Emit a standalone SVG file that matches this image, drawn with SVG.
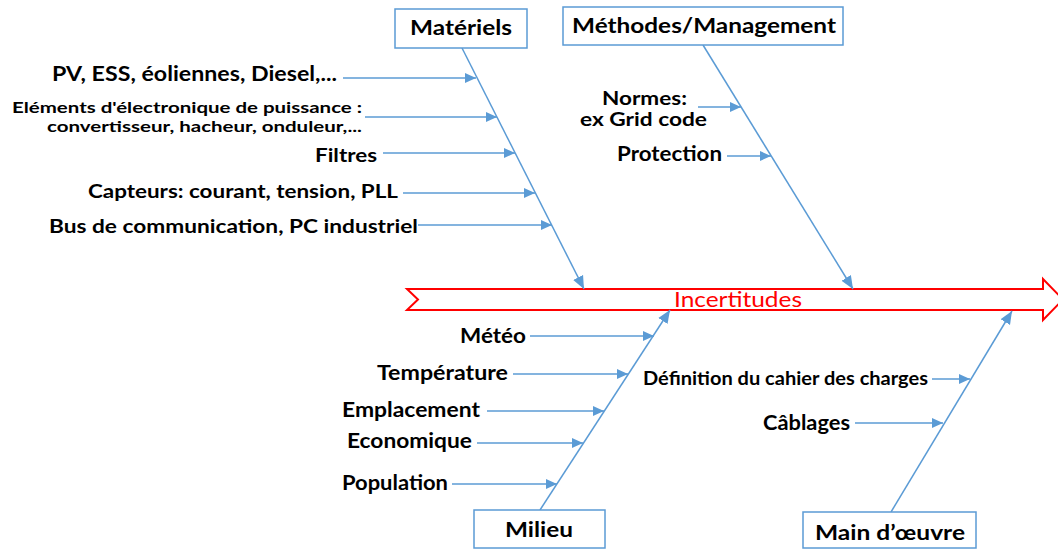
<svg xmlns="http://www.w3.org/2000/svg" width="1058" height="549" viewBox="0 0 1058 549">
<style>
.box{fill:#fff;stroke:#5b9bd5;stroke-width:1.5}
.t{font-family:Lato,"Liberation Sans",sans-serif;font-weight:bold;fill:#000}
.ln{stroke:#5b9bd5;stroke-width:1.5;fill:none}
.sm{marker-end:url(#ah)}
.bg{marker-end:url(#ahb)}
</style>
<defs>
<marker id="ah" markerUnits="userSpaceOnUse" markerWidth="12" markerHeight="12" viewBox="0 0 12 12" refX="11" refY="6" orient="auto"><path d="M0,1 L11,6 L0,11 Z" fill="#5b9bd5"/></marker>
<marker id="ahb" markerUnits="userSpaceOnUse" markerWidth="14" markerHeight="14" viewBox="0 0 14 14" refX="13" refY="7" orient="auto"><path d="M0,1.5 L13,7 L0,12.5 Z" fill="#5b9bd5"/></marker>
</defs>
<rect width="1058" height="549" fill="#fff"/>
<g id="effet">
<polygon points="407,289 1043,289 1043,279 1063,299.5 1043,320 1043,310 407,310 418,299.5" fill="#fff" stroke="#ff0000" stroke-width="2"/>
</g>
<g id="connectors">
<line class="ln bg" x1="462" y1="48" x2="584" y2="289"/>
<line class="ln bg" x1="703" y1="45" x2="853" y2="289"/>
<line class="ln bg" x1="540" y1="510" x2="670" y2="310"/>
<line class="ln bg" x1="891" y1="512" x2="1012" y2="311"/>
<line class="ln sm" x1="343" y1="78" x2="476" y2="78"/>
<line class="ln sm" x1="365" y1="117" x2="497" y2="117"/>
<line class="ln sm" x1="383" y1="153" x2="515" y2="153"/>
<line class="ln sm" x1="403" y1="193" x2="535" y2="193"/>
<line class="ln sm" x1="418" y1="225" x2="552" y2="225"/>
<line class="ln sm" x1="698" y1="107" x2="741" y2="107"/>
<line class="ln sm" x1="727" y1="156" x2="771" y2="156"/>
<line class="ln sm" x1="530" y1="336" x2="654" y2="336"/>
<line class="ln sm" x1="513" y1="374" x2="628" y2="374"/>
<line class="ln sm" x1="487" y1="411" x2="604" y2="411"/>
<line class="ln sm" x1="477" y1="443" x2="583" y2="443"/>
<line class="ln sm" x1="452" y1="484" x2="557" y2="484"/>
<line class="ln sm" x1="932" y1="379" x2="970" y2="379"/>
<line class="ln sm" x1="855" y1="423" x2="943" y2="423"/>
</g>
<g id="incertitudes">
<text x="674" y="307" font-family="Lato,'Liberation Sans',sans-serif" font-size="21" fill="#ff0000" textLength="128" lengthAdjust="spacingAndGlyphs">Incertitudes</text>
</g>
<g id="materiels">
<rect class="box" x="395" y="9" width="132" height="39"/>
<text class="t" x="410" y="35" font-size="21" textLength="102" lengthAdjust="spacingAndGlyphs">Matériels</text>
</g>
<g id="methodes">
<rect class="box" x="563" y="7" width="280" height="38"/>
<text class="t" x="572" y="33" font-size="21" textLength="264" lengthAdjust="spacingAndGlyphs">Méthodes/Management</text>
</g>
<g id="milieu">
<rect class="box" x="474" y="510" width="131" height="38"/>
<text class="t" x="505" y="537" font-size="21" textLength="68" lengthAdjust="spacingAndGlyphs">Milieu</text>
</g>
<g id="main-oeuvre">
<rect class="box" x="803" y="512" width="173" height="36"/>
<text class="t" x="815" y="540" font-size="21" textLength="150" lengthAdjust="spacingAndGlyphs">Main d’œuvre</text>
</g>
<g id="causes-materiels">
<text class="t" x="52" y="81" font-size="20" textLength="285" lengthAdjust="spacingAndGlyphs">PV, ESS, éoliennes, Diesel,...</text>
<text class="t" x="12" y="113" font-size="16" textLength="350" lengthAdjust="spacingAndGlyphs">Eléments d'électronique de puissance :</text>
<text class="t" x="47" y="132" font-size="16" textLength="315" lengthAdjust="spacingAndGlyphs">convertisseur, hacheur, onduleur,...</text>
<text class="t" x="315" y="162" font-size="19.5" textLength="62" lengthAdjust="spacingAndGlyphs">Filtres</text>
<text class="t" x="88" y="198" font-size="19.5" textLength="310" lengthAdjust="spacingAndGlyphs">Capteurs: courant, tension, PLL</text>
<text class="t" x="49" y="233" font-size="19.5" textLength="369" lengthAdjust="spacingAndGlyphs">Bus de communication, PC industriel</text>
</g>
<g id="causes-methodes">
<text class="t" x="602" y="105" font-size="18" textLength="85" lengthAdjust="spacingAndGlyphs">Normes:</text>
<text class="t" x="580" y="126" font-size="18" textLength="127" lengthAdjust="spacingAndGlyphs">ex Grid code</text>
<text class="t" x="617" y="161" font-size="20" textLength="105" lengthAdjust="spacingAndGlyphs">Protection</text>
</g>
<g id="causes-milieu">
<text class="t" x="460" y="343" font-size="20" textLength="66" lengthAdjust="spacingAndGlyphs">Météo</text>
<text class="t" x="377" y="380" font-size="20" textLength="131" lengthAdjust="spacingAndGlyphs">Température</text>
<text class="t" x="342" y="417" font-size="20" textLength="138" lengthAdjust="spacingAndGlyphs">Emplacement</text>
<text class="t" x="347" y="448" font-size="20" textLength="125" lengthAdjust="spacingAndGlyphs">Economique</text>
<text class="t" x="342" y="490" font-size="20" textLength="106" lengthAdjust="spacingAndGlyphs">Population</text>
</g>
<g id="causes-main">
<text class="t" x="643" y="385" font-size="18" textLength="285" lengthAdjust="spacingAndGlyphs">Définition du cahier des charges</text>
<text class="t" x="763" y="430" font-size="20" textLength="87" lengthAdjust="spacingAndGlyphs">Câblages</text>
</g>
</svg>
